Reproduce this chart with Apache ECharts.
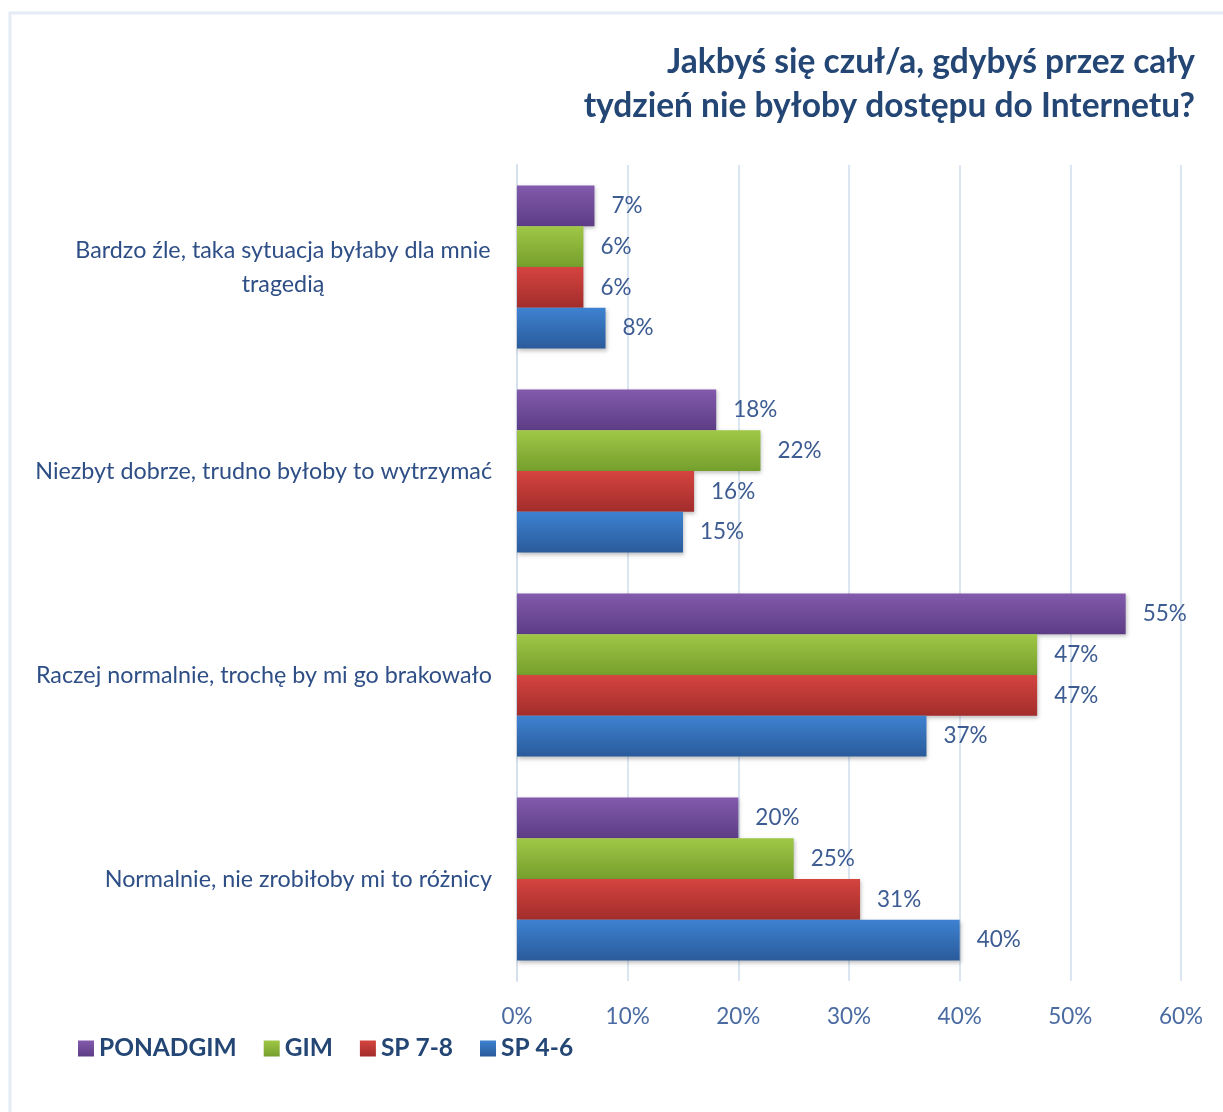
<!DOCTYPE html>
<html>
<head>
<meta charset="utf-8">
<script src="https://cdn.jsdelivr.net/npm/echarts@6/dist/echarts.min.js"></script>
<style>
  html, body { margin: 0; padding: 0; background: #ffffff; }
  #chart { width: 1223px; height: 1112px; }
</style>
</head>
<body>
<div id="chart"></div>
<script>
// Survey answers (top to bottom) and the share of each school group, in percent
const categories = [
  'Bardzo źle, taka sytuacja byłaby dla mnie\ntragedią',
  'Niezbyt dobrze, trudno byłoby to wytrzymać',
  'Raczej normalnie, trochę by mi go brakowało',
  'Normalnie, nie zrobiłoby mi to różnicy'
];
const seriesNames = ['PONADGIM', 'GIM', 'SP 7-8', 'SP 4-6'];
const ponadgim = [7, 18, 55, 20];
const gim = [6, 22, 47, 25];
const sp78 = [6, 16, 47, 31];
const sp46 = [8, 15, 37, 40];
const axisTicks = [0, 10, 20, 30, 40, 50, 60];

const FONT = 'Lato';
const LABEL_SIZE = 22.5;
const CAT_SIZE = 23.3;
const textBlue = '#2E4E86';

// top / bottom shades of each bar gradient
const shades = [
  ['#835AAD', '#5D3D85'],
  ['#A0C746', '#759F2D'],
  ['#D5443F', '#A22D2C'],
  ['#3E82D1', '#2A5B9B']
];

function grad(pair) {
  return new echarts.graphic.LinearGradient(0, 0, 0, 1, [
    { offset: 0, color: pair[0] },
    { offset: 1, color: pair[1] }
  ]);
}

// width of the first line of the two-line label, so the second line can be centred under it
const ctx = document.createElement('canvas').getContext('2d');
ctx.font = CAT_SIZE + 'px ' + FONT;
const firstLineWidth = Math.ceil(ctx.measureText(categories[0].split('\n')[0]).width) + 2;

const values = [ponadgim, gim, sp78, sp46];

const chart = echarts.init(document.getElementById('chart'), null, { renderer: 'canvas' });

chart.setOption({
  backgroundColor: '#ffffff',
  animation: false,
  textStyle: { fontFamily: FONT },
  graphic: [{
    type: 'rect',
    shape: { x: 10, y: 13, width: 1400, height: 1300 },
    style: { fill: 'none', stroke: '#E4ECF6', lineWidth: 3 },
    silent: true,
    z: -1
  }, {
    type: 'text',
    x: 1195,
    y: 40,
    style: {
      text: 'Jakbyś się czuł/a, gdybyś przez cały\ntydzień nie byłoby dostępu do Internetu?',
      align: 'right',
      verticalAlign: 'top',
      font: 'bold 33.5px ' + FONT,
      fill: '#234675',
      lineHeight: 44
    },
    silent: true
  }],
  legend: {
    data: seriesNames,
    left: 78,
    top: 1036,
    padding: 0,
    icon: 'rect',
    itemWidth: 16,
    itemHeight: 16,
    itemGap: 27,
    textStyle: {
      fontFamily: FONT,
      fontSize: 24.5,
      fontWeight: 'bold',
      color: '#234675'
    }
  },
  grid: {
    left: 517,
    right: 42,
    top: 165,
    bottom: 131,
    containLabel: false
  },
  xAxis: {
    type: 'value',
    min: axisTicks[0],
    max: axisTicks[axisTicks.length - 1],
    interval: 10,
    axisLine: { show: false },
    axisTick: { show: false },
    splitLine: { lineStyle: { color: '#DCE6F2', width: 2 } },
    axisLabel: {
      formatter: '{value}%',
      fontFamily: FONT,
      fontSize: LABEL_SIZE,
      color: '#4A6BA2',
      margin: 24
    }
  },
  yAxis: {
    type: 'category',
    inverse: true,
    data: categories,
    axisLine: { show: true, lineStyle: { color: '#D6DFEC', width: 2 } },
    axisTick: { show: false },
    axisLabel: {
      fontFamily: FONT,
      fontSize: CAT_SIZE,
      color: textBlue,
      margin: 25,
      lineHeight: 34,
      formatter: function (v) {
        return v.indexOf('\n') >= 0 ? '{c|' + v + '}' : v;
      },
      rich: {
        c: {
          width: firstLineWidth,
          align: 'center',
          fontFamily: FONT,
          fontSize: CAT_SIZE,
          color: textBlue,
          lineHeight: 34
        }
      }
    }
  },
  series: seriesNames.map(function (name, i) {
    return {
      name: name,
      type: 'bar',
      data: values[i],
      color: shades[i][0],
      barGap: '0%',
      barCategoryGap: '20%',
      itemStyle: {
        color: grad(shades[i]),
        shadowColor: 'rgba(0,0,0,0.25)',
        shadowBlur: 4,
        shadowOffsetX: 1,
        shadowOffsetY: 2
      },
      label: {
        show: true,
        position: 'right',
        distance: 17,
        formatter: '{c}%',
        fontFamily: FONT,
        fontSize: LABEL_SIZE,
        color: '#3D5C92'
      }
    };
  })
});
</script>
</body>
</html>
